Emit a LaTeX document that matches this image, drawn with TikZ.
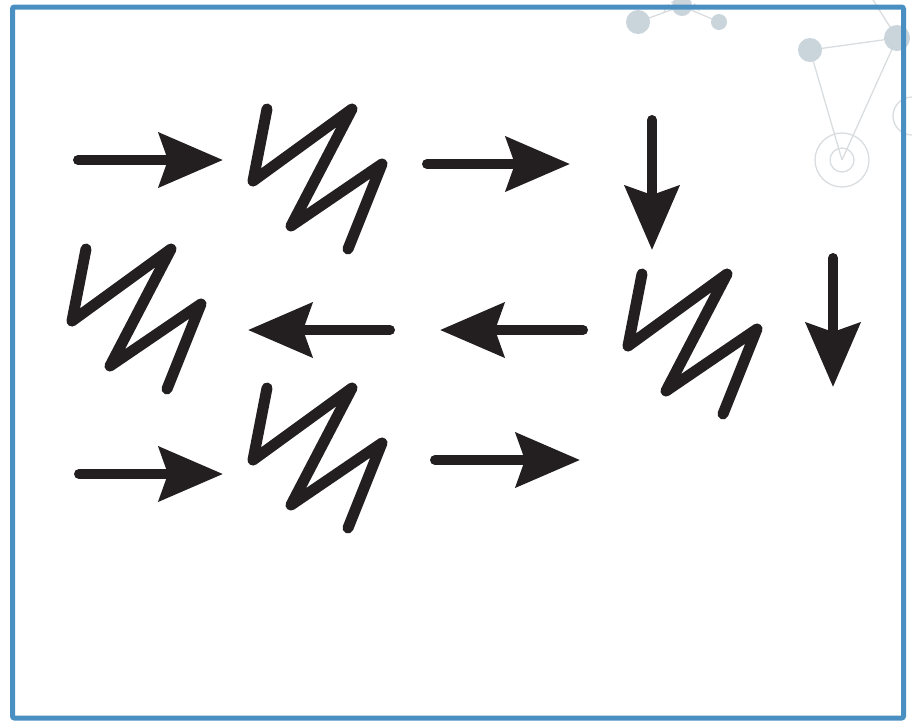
\documentclass[tikz,border=0pt]{standalone}
\usetikzlibrary{arrows.meta}
\definecolor{frameblue}{HTML}{4A8FC1}
\definecolor{ink}{HTML}{231F20}
\definecolor{dotgrey}{HTML}{C9D4DB}
\definecolor{linegrey}{HTML}{DADDE0}
\tikzset{
  zz/.style={draw=ink, line width=11pt, line join=round, line cap=round},
  bigarrow/.style={draw=ink, line width=10pt, line cap=round,
    -{Stealth[length=64pt, width=54pt, inset=9pt]}},
  dot/.style={fill=dotgrey, draw=none},
  faint/.style={draw=linegrey, line width=1.3pt},
  frame/.style={draw=frameblue, line width=5pt, rounded corners=2pt},
  pics/zigzag/.style={code={
    \draw[zz] (0,0) -- (-14,72) -- (85,0) -- (24,117) -- (115,55) -- (81,140);
  }}
}
\begin{document}
\begin{tikzpicture}[x=1pt, y=-1pt]
\useasboundingbox (0,0) rectangle (912,724);
\fill[white] (0,0) rectangle (912,724);

% faint molecule decoration (top right)
\coordinate (m1) at (638,22);
\coordinate (m2) at (682,6);
\coordinate (m3) at (719,22);
\coordinate (m4) at (810,50);
\coordinate (m5) at (897,38);
\coordinate (m6) at (842,160);
\coordinate (m7) at (873,0);
\coordinate (m8) at (912,116);
\draw[faint] (m1) -- (m2) -- (m3);
\draw[faint] (m4) -- (m5) -- (m7);
\draw[faint] (m4) -- (m6);
\draw[faint] (m5) -- (m6);
\draw[faint, dashed] (664,12) arc[start angle=200, end angle=340, radius=19];
\fill[dot] (m1) circle[radius=12];
\fill[dot] (m2) circle[radius=10];
\fill[dot] (m3) circle[radius=8];
\fill[dot] (m4) circle[radius=12];
\fill[dot] (m5) circle[radius=13];
\draw[faint] (m6) circle[radius=27];
\draw[faint] (m6) circle[radius=12];
\draw[faint] (m8) circle[radius=19];

% frame
\draw[frame] (12.5,7) rectangle (903.5,718);

% zigzags
\pic at (267,109) {zigzag};
\pic at (86,249) {zigzag};
\pic at (642,274) {zigzag};
\pic at (267,388) {zigzag};

% arrows
\coordinate (a1s) at (78,160);  \coordinate (a1e) at (223,160);
\coordinate (a2s) at (427,164); \coordinate (a2e) at (570,164);
\coordinate (a3s) at (652,120); \coordinate (a3e) at (652,250);
\coordinate (a4s) at (390,330); \coordinate (a4e) at (248,330);
\coordinate (a5s) at (583,330); \coordinate (a5e) at (440,330);
\coordinate (a6s) at (833,258); \coordinate (a6e) at (833,387);
\coordinate (a7s) at (79,474);  \coordinate (a7e) at (223,474);
\coordinate (a8s) at (435,460); \coordinate (a8e) at (580,460);
\draw[bigarrow] (a1s) -- (a1e);
\draw[bigarrow] (a2s) -- (a2e);
\draw[bigarrow] (a3s) -- (a3e);
\draw[bigarrow] (a4s) -- (a4e);
\draw[bigarrow] (a5s) -- (a5e);
\draw[bigarrow] (a6s) -- (a6e);
\draw[bigarrow] (a7s) -- (a7e);
\draw[bigarrow] (a8s) -- (a8e);
\end{tikzpicture}
\end{document}
